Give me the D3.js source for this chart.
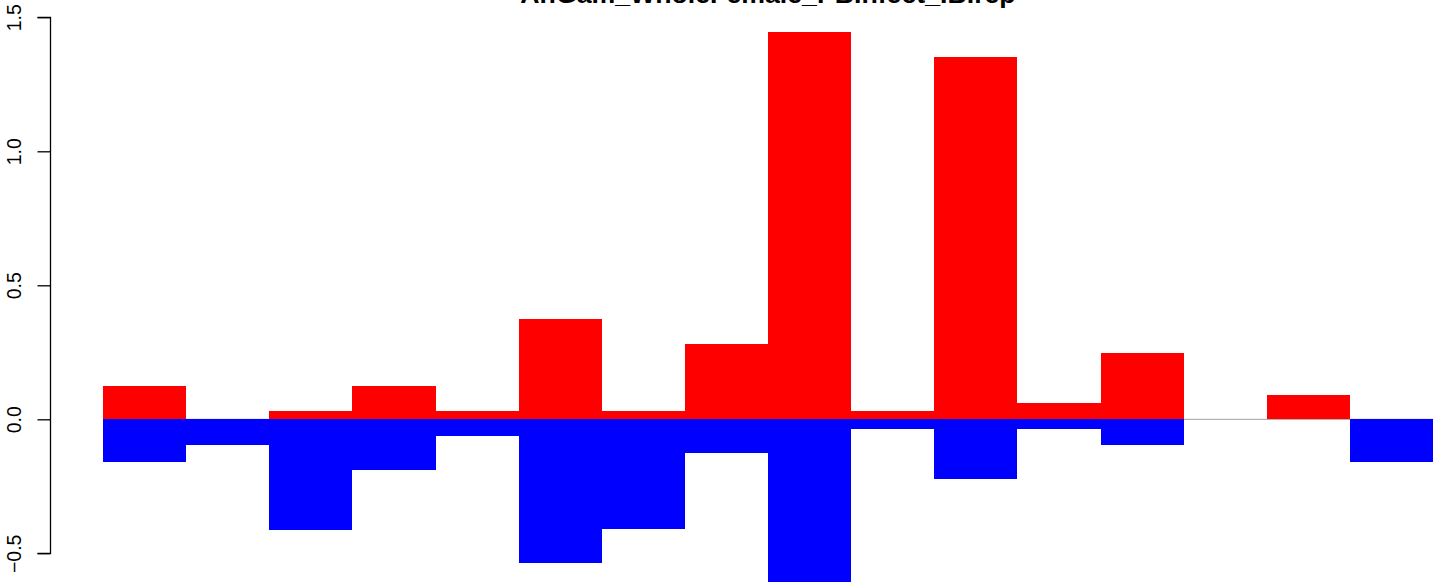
<!DOCTYPE html>
<html>
<head>
<meta charset="utf-8">
<script src="https://cdn.jsdelivr.net/npm/d3@7"></script>
<style>
html, body { margin: 0; padding: 0; background: #fff; }
svg { display: block; }
</style>
</head>
<body>
<svg id="chart" width="1444" height="582"></svg>
<script>
const title = "AnGam_WholeFemale_PBInfect_IB.rep";
const categories = ["1","2","3","4","5","6","7","8","9","10","11","12","13","14","15","16"];
const upValues = [0.126, 0, 0.032, 0.126, 0.032, 0.376, 0.032, 0.282, 1.444, 0.032, 1.351, 0.062, 0.249, 0, 0.092, 0];
const downValues = [-0.161, -0.097, -0.412, -0.190, -0.063, -0.535, -0.411, -0.127, -0.606, -0.035, -0.221, -0.035, -0.097, 0, 0, -0.161];
const yTicks = [-0.5, 0.0, 0.5, 1.0, 1.5];
const yTickLabels = ["\u22120.5", "0.0", "0.5", "1.0", "1.5"];

const svg = d3.select("#chart");
const x = d3.scaleBand().domain(categories).range([103, 1433]).padding(0);
const y = d3.scaleLinear().domain([-0.5, 1.5]).range([553.3, 17.3]);

// title
svg.append("text")
  .attr("x", 768).attr("y", 3)
  .attr("text-anchor", "middle")
  .attr("font-family", "Liberation Sans, Arial, Helvetica, sans-serif")
  .attr("font-weight", "bold")
  .attr("font-size", 26.7)
  .attr("fill", "#000")
  .text(title);

// zero line
svg.append("line")
  .attr("x1", x.range()[0]).attr("x2", x.range()[1])
  .attr("y1", y(0)).attr("y2", y(0))
  .attr("stroke", "#a0a0a0").attr("stroke-width", 1);

// red bars
svg.append("g").attr("shape-rendering", "crispEdges")
  .selectAll("rect").data(categories.map((c, i) => ({c, v: upValues[i]})).filter(d => d.v > 0))
  .join("rect")
  .attr("x", d => x(d.c)).attr("width", x.bandwidth())
  .attr("y", d => y(d.v)).attr("height", d => y(0) - y(d.v))
  .attr("fill", "#ff0000");

// blue bars
svg.append("g").attr("shape-rendering", "crispEdges")
  .selectAll("rect").data(categories.map((c, i) => ({c, v: downValues[i]})).filter(d => d.v < 0))
  .join("rect")
  .attr("x", d => x(d.c)).attr("width", x.bandwidth())
  .attr("y", y(0)).attr("height", d => y(d.v) - y(0))
  .attr("fill", "#0000ff");

// y axis
const axis = d3.axisLeft(y).tickValues(yTicks).tickSize(13).tickPadding(0)
  .tickFormat((d, i) => yTickLabels[i]);
const ag = svg.append("g").attr("transform", "translate(50.5,0)").call(axis);
ag.select(".domain").attr("d", `M-13,${y(1.5)}H0V${y(-0.5)}H-13`).attr("stroke", "#000").attr("stroke-width", 1.3).attr("fill", "none");
ag.selectAll(".tick line").attr("stroke", "#000").attr("stroke-width", 1.3);
ag.selectAll(".tick text")
  .attr("font-family", "Liberation Sans, Arial, Helvetica, sans-serif")
  .attr("font-size", 19.5)
  .attr("fill", "#000")
  .attr("text-anchor", "middle")
  .attr("dy", null)
  .attr("x", null)
  .attr("y", 0)
  .attr("transform", "translate(-29.8,0) rotate(-90)");
</script>
</body>
</html>
